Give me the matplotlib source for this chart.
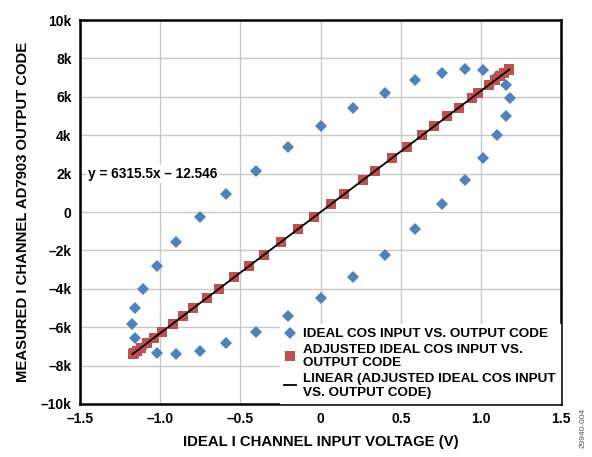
import matplotlib
matplotlib.use("Agg")
import matplotlib.pyplot as plt
import numpy as np

# 字体配置
plt.rcParams["font.family"] = ["Liberation Sans", "DejaVu Sans"]
plt.rcParams["font.weight"] = "bold"
plt.rcParams["axes.unicode_minus"] = True

# 理想 cos 输入 (V) 与输出码 (k)
ideal_x = [1.18, 1.156, 1.10, 1.015, 0.90, 0.754, 0.5875, 0.40, 0.20, 0.0,
           -0.206, -0.40, -0.59, -0.75, -0.90, -1.017, -1.104, -1.156, -1.177, -1.156,
           -1.11, -1.017, -0.90, -0.75, -0.59, -0.40, -0.206, 0.0, 0.20, 0.40,
           0.5875, 0.754, 0.90, 1.015, 1.10, 1.156]
ideal_y = [5.94, 6.61, 7.08, 7.40, 7.43, 7.24, 6.86, 6.21, 5.43, 4.48,
           3.39, 2.14, 0.92, -0.26, -1.55, -2.83, -3.99, -5.02, -5.82, -6.56,
           -7.07, -7.36, -7.40, -7.24, -6.84, -6.25, -5.42, -4.46, -3.39, -2.24,
           -0.90, 0.40, 1.67, 2.80, 4.01, 4.98]

# 调整后的输入
adj_x = [-1.172, -1.165, -1.147, -1.12, -1.083, -1.04, -0.99, -0.922, -0.858, -0.795,
         -0.706, -0.632, -0.537, -0.448, -0.355, -0.245, -0.143, -0.041, 0.063, 0.146,
         0.264, 0.339, 0.443, 0.537, 0.635, 0.709, 0.789, 0.86, 0.941, 0.983,
         1.047, 1.086, 1.121, 1.146, 1.172, 1.177]
adj_y = [-7.40, -7.36, -7.24, -7.07, -6.84, -6.56, -6.25, -5.82, -5.42, -5.02,
         -4.46, -3.99, -3.39, -2.83, -2.24, -1.55, -0.90, -0.26, 0.40, 0.92,
         1.67, 2.14, 2.80, 3.39, 4.01, 4.48, 4.98, 5.43, 5.94, 6.21,
         6.61, 6.86, 7.08, 7.24, 7.40, 7.43]

x_ticks = [-1.5, -1.0, -0.5, 0, 0.5, 1.0, 1.5]
x_tick_labels = ["–1.5", "–1.0", "–0.5", "0", "0.5", "1.0", "1.5"]
y_ticks = [-10, -8, -6, -4, -2, 0, 2, 4, 6, 8, 10]
y_tick_labels = ["–10k", "–8k", "–6k", "–4k", "–2k", "0", "2k", "4k", "6k", "8k", "10k"]

blue = "#4F81BD"
red = "#C0504D"

fig = plt.figure(figsize=(5.92, 4.57), dpi=100)
ax = fig.add_axes([0.135, 0.116, 0.813, 0.840])

ax.plot(ideal_x, ideal_y, "D", color=blue, markersize=5.8, markeredgewidth=0,
        label="IDEAL COS INPUT VS. OUTPUT CODE", zorder=3)
ax.plot(adj_x, adj_y, "s", color=red, markersize=6.5, markeredgewidth=0,
        label="ADJUSTED IDEAL COS INPUT VS.\nOUTPUT CODE", zorder=4)

# 线性拟合
k, b = np.polyfit(adj_x, adj_y, 1)
xs = np.array([min(adj_x), max(adj_x)])
ax.plot(xs, k * xs + b, "-", color="black", linewidth=1.3,
        label="LINEAR (ADJUSTED IDEAL COS INPUT\nVS. OUTPUT CODE)", zorder=5)

ax.text(-1.45, 2.0, "y = 6315.5x – 12.546", fontsize=9.8, fontweight="bold",
        va="center", ha="left", zorder=6,
        bbox=dict(facecolor="white", edgecolor="none", pad=1.5))

ax.set_xlim(-1.5, 1.5)
ax.set_ylim(-10, 10)
ax.set_xticks(x_ticks)
ax.set_xticklabels(x_tick_labels)
ax.set_yticks(y_ticks)
ax.set_yticklabels(y_tick_labels)
ax.tick_params(length=0, labelsize=10, pad=6)
for lab in ax.get_xticklabels() + ax.get_yticklabels():
    lab.set_fontweight("bold")

ax.grid(True, color="#c8c8c8", linewidth=1)
ax.set_axisbelow(True)
for s in ax.spines.values():
    s.set_linewidth(1.8)
    s.set_color("black")

ax.set_xlabel("IDEAL I CHANNEL INPUT VOLTAGE (V)", fontsize=10.7, fontweight="bold", labelpad=6)
ax.set_ylabel("MEASURED I CHANNEL AD7903 OUTPUT CODE", fontsize=10.7, fontweight="bold", labelpad=8)

leg = ax.legend(loc="lower right", frameon=True, fontsize=9.7, handlelength=0.9,
                handletextpad=0.5, labelspacing=0.25, borderaxespad=0.1,
                borderpad=0.3, fancybox=False)
leg.get_frame().set_edgecolor("white")
leg.get_frame().set_alpha(1.0)
for t in leg.get_texts():
    t.set_fontweight("bold")

fig.text(0.985, 0.02, "29940-004", rotation=90, fontsize=6, color="#555555",
         fontweight="normal", ha="center", va="bottom")

fig.savefig("out.png", dpi=100)
